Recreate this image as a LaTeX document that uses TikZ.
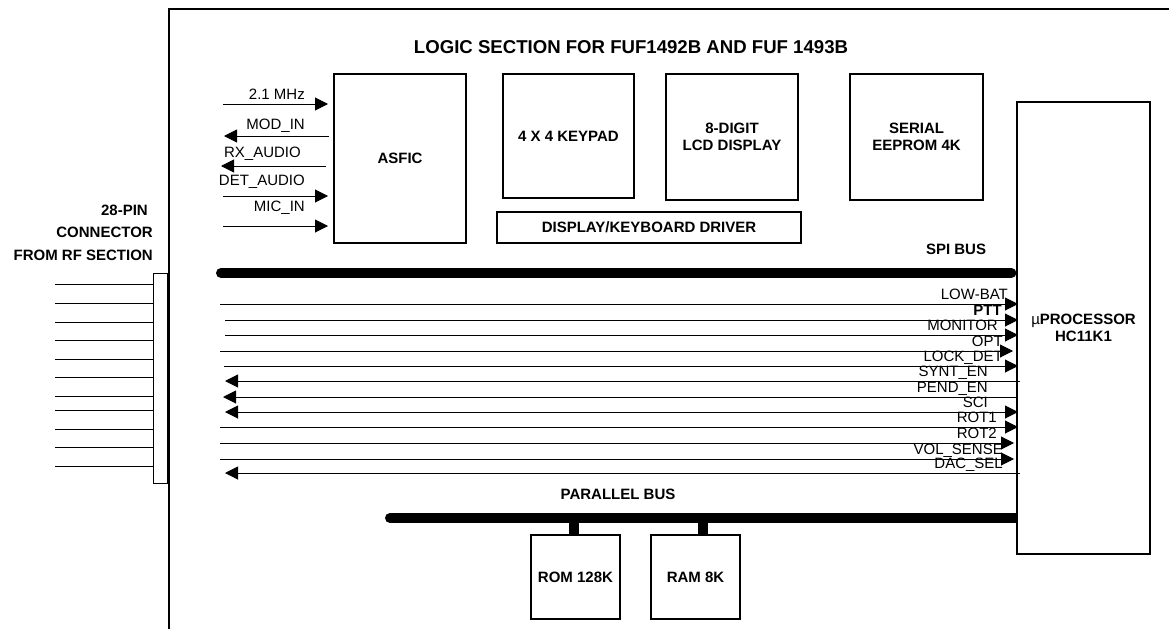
\documentclass[tikz,border=0pt]{standalone}
\usepackage{fontspec}
\setmainfont{Liberation Sans}
\usetikzlibrary{arrows.meta}
\begin{document}
\begin{tikzpicture}[x=1pt,y=-1pt,
  box/.style={draw, line width=1.2pt, inner sep=0pt, align=center,
    font=\bfseries\fontsize{15}{17.3}\selectfont},
  lbl/.style={inner sep=0pt, font=\fontsize{15}{17}\selectfont},
  blbl/.style={inner sep=0pt, font=\bfseries\fontsize{15}{17}\selectfont},
  sig/.style={line width=1pt},
  rtip/.style={-{Triangle[length=13pt,width=13pt]}},
  ltip/.style={{Triangle[length=13pt,width=13pt]}-},
  btip/.style={{Triangle[length=13pt,width=13pt]}-{Triangle[length=13pt,width=13pt]}},
  ntip/.style={},
  bus/.style={line width=10pt, line cap=round},
  stub/.style={line width=10pt}
]
\useasboundingbox (0,0) rectangle (1169,629);

% open frame
\draw[line width=1.3pt] (169,629) -- (169,9) -- (1169,9);

% title
\node[inner sep=0pt, anchor=base, font=\bfseries\fontsize{18.6}{21}\selectfont] (title) at (631,53)
  {LOGIC SECTION FOR FUF1492B AND FUF 1493B};

% blocks
\node[box, minimum width=132pt, minimum height=169pt] (asfic) at (400,158.5) {ASFIC};
\node[box, minimum width=131pt, minimum height=124pt] (keypad) at (568.5,136) {4 X 4 KEYPAD};
\node[box, minimum width=132pt, minimum height=126pt] (lcd) at (732,137) {8-DIGIT\\LCD DISPLAY};
\node[box, minimum width=133pt, minimum height=126pt] (eeprom) at (916.5,137) {SERIAL\\EEPROM 4K};
\node[box, minimum width=304pt, minimum height=31pt] (driver) at (649,227.5) {DISPLAY/KEYBOARD DRIVER};
\node[box, minimum width=133pt, minimum height=452pt] (proc) at (1083.5,328)
  {{\mdseries µ}PROCESSOR\\HC11K1};
\node[box, minimum width=89pt, minimum height=84pt] (rom) at (575.5,577) {ROM 128K};
\node[box, minimum width=89pt, minimum height=84pt] (ram) at (695.5,577) {RAM 8K};
\node[draw, line width=1pt, inner sep=0pt, minimum width=14pt, minimum height=210pt] (conn) at (160,378) {};

% connector labels
\node[blbl, anchor=base east] (c1) at (148,215) {28-PIN};
\node[blbl, anchor=base east] (c2) at (153,237) {CONNECTOR};
\node[blbl, anchor=base east] (c3) at (153,260) {FROM RF SECTION};

% connector pins
\foreach \y [count=\i] in {284,303,322,340,359,377,396,410,429,447,466}{
  \coordinate (pin\i) at (55,\y);
  \draw[sig] (pin\i) -- (pin\i -| conn.west);
}

% ASFIC signals
\foreach \y/\xa/\xb/\st/\txt/\tx/\ty [count=\i] in {
  104/223/328/rtip/2.1 MHz/305/99,
  136/224/329/ltip/MOD\_IN/305/129,
  166/221/326/ltip/RX\_AUDIO/301/157,
  196/223/328/rtip/DET\_AUDIO/305/185,
  226/223/328/rtip/MIC\_IN/305/211}{
  \coordinate (aL\i) at (\xa,\y);
  \coordinate (aR\i) at (\xb,\y);
  \draw[sig,\st] (aL\i) -- (aR\i);
  \node[lbl, anchor=base east] (aT\i) at (\tx,\ty) {\txt};
}

% buses
\coordinate (spiL) at (221,273);
\draw[bus] (spiL) -- ([xshift=-5pt]spiL -| proc.west);
\node[blbl, anchor=base] (spilbl) at (956,254) {SPI BUS};

\coordinate (parL) at (390,518);
\draw[bus] (parL) -- ([xshift=-5pt]parL -| proc.west);
\draw[line width=10pt] ([xshift=-5pt]parL -| proc.west) -- (parL -| proc.west);
\node[blbl, anchor=base] (parlbl) at (618,499) {PARALLEL BUS};
\draw[stub] ([xshift=-1.5pt]rom.north) -- ([xshift=-1.5pt]rom.north |- parL);
\draw[stub] ([xshift=7.5pt]ram.north) -- ([xshift=7.5pt]ram.north |- parL);

% processor signals
\foreach \y/\xa/\xb/\st/\txt/\tx [count=\i] in {
  304/220/1018/rtip/LOW-BAT/1008,
  320/225/1018/rtip/\textbf{PTT}/1002,
  335/225/1018/rtip/MONITOR/998,
  351/220/1013/rtip/OPT/1003,
  366/224/1018/rtip/LOCK\_DET/1003,
  381/225/1020/ltip/SYNT\_EN/988,
  397/223/1018/ltip/PEND\_EN/988,
  412/225/1018/btip/SCI/988,
  427/220/1018/rtip/ROT1/997,
  443/220/1014/rtip/ROT2/997,
  459/220/1014/rtip/VOL\_SENSE/1003,
  473/225/1020/ltip/DAC\_SEL/1003}{
  \coordinate (sL\i) at (\xa,\y);
  \coordinate (sR\i) at (\xb,\y);
  \draw[sig,\st] (sL\i) -- (sR\i);
  \node[lbl, anchor=base east] (sT\i) at (\tx,\y-4.5) {\txt};
}
\end{tikzpicture}
\end{document}
